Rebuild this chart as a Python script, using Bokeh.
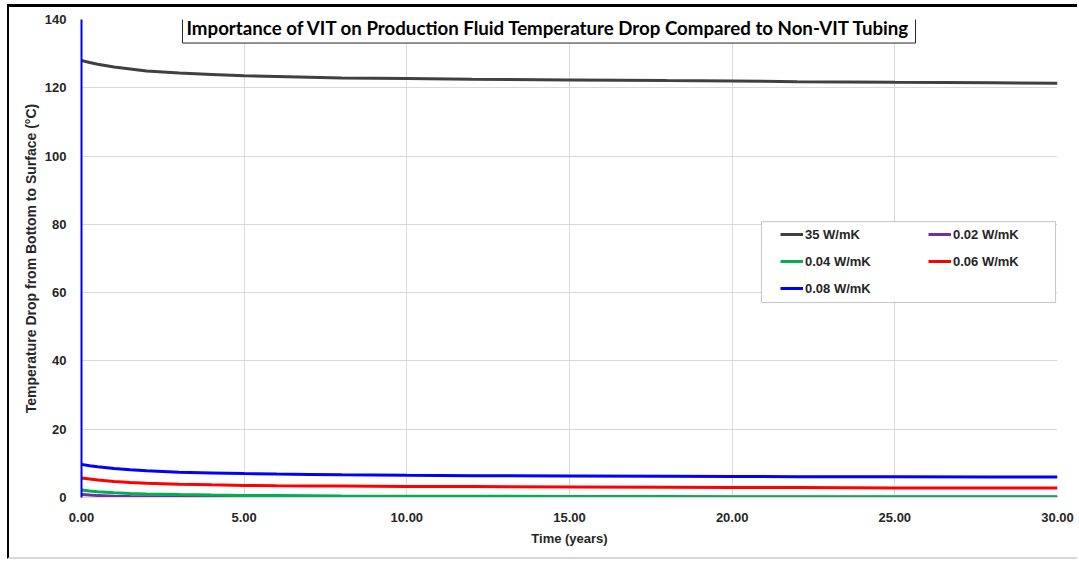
from bokeh.plotting import figure
from bokeh.models import (Range1d, FixedTicker, PrintfTickFormatter, Legend, LegendItem,
                          Label, BoxAnnotation)
from bokeh.embed import file_html
from bokeh.resources import INLINE

# ---------------- data ----------------
time_years = [0.0, 0.25, 0.5, 1, 1.5, 2, 3, 4, 5, 6, 7, 8, 10, 12, 15, 18, 20, 22, 25, 28, 30]

drop_35 = [128.0, 127.4, 126.9, 126.1, 125.5, 124.9, 124.3, 123.9, 123.5, 123.3, 123.1, 122.9,
           122.7, 122.5, 122.3, 122.1, 122.0, 121.8, 121.6, 121.5, 121.3]
drop_002 = [0.9, 0.7, 0.55, 0.4, 0.3, 0.25, 0.2, 0.15, 0.12, 0.1, 0.1, 0.09, 0.08, 0.07, 0.06,
            0.05, 0.05, 0.05, 0.04, 0.04, 0.04]
drop_004 = [2.2, 1.9, 1.7, 1.4, 1.2, 1.05, 0.85, 0.7, 0.6, 0.55, 0.5, 0.45, 0.4, 0.35, 0.3,
            0.3, 0.25, 0.25, 0.2, 0.2, 0.2]
drop_006 = [5.7, 5.4, 5.1, 4.7, 4.4, 4.2, 3.9, 3.7, 3.55, 3.45, 3.4, 3.35, 3.25, 3.2, 3.1,
            3.0, 2.95, 2.9, 2.8, 2.75, 2.75]
drop_008 = [9.7, 9.3, 9.0, 8.5, 8.1, 7.8, 7.4, 7.2, 7.0, 6.85, 6.75, 6.65, 6.5, 6.4, 6.3,
            6.2, 6.15, 6.1, 6.05, 6.0, 6.0]

series_labels = ["35 W/mK", "0.02 W/mK", "0.04 W/mK", "0.06 W/mK", "0.08 W/mK"]
series_colors = ["#404040", "#7030A0", "#00B050", "#FF0000", "#0000FF"]

x_ticks = [0, 5, 10, 15, 20, 25, 30]
y_ticks = [0, 20, 40, 60, 80, 100, 120, 140]

title_text = "Importance of VIT on Production Fluid Temperature Drop Compared to Non-VIT Tubing"
x_label = "Time (years)"
y_label = "Temperature Drop from Bottom to Surface (\u00b0C)"

# ---------------- figure ----------------
p = figure(width=1070, height=555, output_backend="svg", toolbar_location=None, title=None,
           x_range=Range1d(0, 30), y_range=Range1d(0, 140),
           min_border_left=72, min_border_right=22, min_border_top=12, min_border_bottom=65)
p.styles = {"margin-left": "7px", "margin-top": "4px",
            "border-left": "2px solid black", "border-top": "3px solid black",
            "border-bottom": "2px solid #d9d9d9"}
p.outline_line_color = None
p.background_fill_color = "white"
p.border_fill_color = "white"

grid_col = "#d9d9d9"
p.xgrid.grid_line_color = grid_col
p.ygrid.grid_line_color = grid_col

for ax in (p.xaxis[0], p.yaxis[0]):
    ax.axis_line_color = grid_col
    ax.major_tick_line_color = None
    ax.minor_tick_line_color = None
    ax.major_label_text_font = "Liberation Sans"
    ax.major_label_text_font_style = "bold"
    ax.major_label_text_font_size = "13px"
    ax.major_label_text_color = "#262626"
    ax.axis_label_text_font = "Liberation Sans"
    ax.axis_label_text_font_style = "bold"
    ax.axis_label_text_color = "#262626"
    ax.major_label_standoff = 9

p.yaxis.axis_line_color = "#0000FF"
p.yaxis.axis_line_width = 2
p.xaxis.axis_label_text_font_size = "13px"
p.yaxis.axis_label_text_font_size = "14px"
p.xaxis.ticker = FixedTicker(ticks=x_ticks)
p.yaxis.ticker = FixedTicker(ticks=y_ticks)
p.xaxis.formatter = PrintfTickFormatter(format="%.2f")
p.yaxis.formatter = PrintfTickFormatter(format="%d")
p.xaxis.axis_label = x_label
p.yaxis.axis_label = y_label
p.xaxis.axis_label_standoff = 6
p.yaxis.axis_label_standoff = 3

r35 = p.line(time_years, drop_35, line_color=series_colors[0], line_width=3)
r002 = p.line(time_years, drop_002, line_color=series_colors[1], line_width=3)
r004 = p.line(time_years, drop_004, line_color=series_colors[2], line_width=3)
r006 = p.line(time_years, drop_006, line_color=series_colors[3], line_width=3)
r008 = p.line(time_years, drop_008, line_color=series_colors[4], line_width=3)

# legend box
p.add_layout(BoxAnnotation(left=20.9, right=29.94, bottom=57.1, top=80.8,
                           fill_color="white", fill_alpha=1.0,
                           line_color="#404040", line_width=1))

def make_legend(items, loc):
    lg = Legend(items=items, location=loc, orientation="vertical",
                border_line_alpha=0, background_fill_alpha=0,
                padding=5, spacing=7, glyph_width=23, glyph_height=20,
                label_height=20, label_standoff=2,
                label_text_font="Liberation Sans", label_text_font_style="bold",
                label_text_font_size="13px", label_text_color="#262626")
    p.add_layout(lg)
    return lg

make_legend([LegendItem(label=series_labels[0], renderers=[r35]),
             LegendItem(label=series_labels[2], renderers=[r004]),
             LegendItem(label=series_labels[4], renderers=[r008])], (694, 194))
make_legend([LegendItem(label=series_labels[1], renderers=[r002]),
             LegendItem(label=series_labels[3], renderers=[r006])], (842, 221))

# title box
p.add_layout(Label(x=14.37, y=137.5, text=title_text, text_align="center",
                   text_baseline="middle", text_font="Lato",
                   text_font_style="bold", text_font_size="18.7px", text_color="black",
                   background_fill_color="white", border_line_color="#262626",
                   border_line_width=1, padding=4))

open("out.html", "w").write(file_html(p, INLINE))
